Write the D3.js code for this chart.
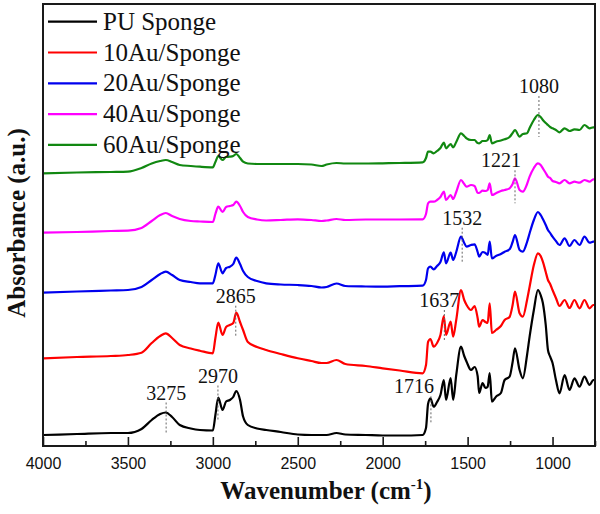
<!DOCTYPE html>
<html>
<head>
<meta charset="utf-8">
<script src="https://cdn.jsdelivr.net/npm/d3@7"></script>
<style>
  html, body { margin: 0; padding: 0; background: #fff; }
  svg { display: block; }
</style>
</head>
<body>
<svg id="chart" width="600" height="514"></svg>
<script>
// ---------------- DATA ----------------
const seriesNames = ["PU Sponge", "10Au/Sponge", "20Au/Sponge", "40Au/Sponge", "60Au/Sponge"];

const wavenumbers = [4000, 3800, 3600, 3500, 3420, 3360, 3310, 3277, 3240, 3195, 3130, 3076, 3000,
  2985, 2968, 2943, 2922, 2900, 2880, 2862, 2840, 2822, 2794, 2740, 2686, 2600, 2500, 2420, 2360,
  2330, 2272, 2220, 2100, 2000, 1900, 1765, 1745, 1733, 1719, 1700, 1680, 1660, 1640, 1627, 1600,
  1585, 1567, 1539, 1520, 1506, 1480, 1459, 1441, 1432, 1412, 1395, 1382, 1370, 1357, 1333, 1304,
  1282, 1253, 1235, 1221, 1194, 1175, 1150, 1135, 1110, 1086, 1070, 1057, 1040, 1027, 1014, 1000,
  980, 959, 929, 900, 871, 841, 812, 782, 760, 750];

const puSponge = [11, 12, 13, 13, 17, 26, 32, 33.5, 29, 21, 17.5, 16, 15.5,
  31, 48.5, 36, 44.5, 46, 49, 55, 46, 29.5, 21, 17.5, 16, 14, 11.5, 11, 11,
  11, 13, 11.5, 11, 10.5, 10.5, 11, 18, 42, 47.7, 39.3, 44, 51, 66, 46, 68,
  46, 71, 99.3, 90, 84.3, 76, 79, 70, 53, 63, 58, 59.3, 73, 44.3, 49.3, 53,
  66, 69.3, 84, 97.7, 76, 67.7, 91, 109.3, 136, 156, 151, 143, 121, 96, 89.3, 83,
  66, 52.7, 71, 56, 67.7, 59.3, 69.3, 61, 66, 66];

const au10 = [87.7, 89, 90, 91, 93.3, 103, 110, 112.7, 108, 101, 97.5, 95.3, 92.7,
  108, 123.3, 111, 119, 121, 123, 133.3, 124, 116, 104, 99, 96, 92, 87.7, 85, 83,
  83, 86, 82, 80, 77.7, 75.5, 72.7, 81, 104, 107, 99.3, 103, 111, 130, 111, 124.3,
  109.3, 126, 156, 146, 141, 136, 140, 128, 119.3, 126, 124, 123, 142.7, 113, 116, 120,
  126, 129, 141, 154.3, 132.7, 129.3, 146, 159.3, 181, 192.7, 190, 184.3, 174, 166, 162, 156,
  148, 140, 146, 138, 146, 137.7, 146, 137.7, 141, 141];

const au20 = [153.3, 154.5, 155.5, 156, 159, 166, 172, 174.3, 171, 166, 164, 162.7, 162.7,
  171, 182.7, 172.7, 178, 179.3, 182, 188.3, 182, 175, 169, 165, 162.7, 161.5, 161, 160, 158.5,
  159, 162.5, 160, 159.5, 159.3, 159.8, 160.3, 166, 177.7, 179.3, 176.7, 180, 184, 193.7, 182.7, 193.3,
  186, 194, 209.3, 203, 199.3, 201, 201.7, 194, 189.3, 194, 193, 191, 204.3, 187.7, 190, 192,
  194.3, 196.7, 204, 211, 196, 194.3, 204, 212.7, 226, 234, 231, 227, 221, 216, 213, 209.3,
  205, 201, 207.7, 200, 206, 201, 209.3, 203.3, 204.3, 204.3];

const au40 = [213.3, 214, 215, 215.3, 218, 225, 231, 233, 230, 227, 225, 224.5, 224,
  232, 239.3, 234, 239, 240, 241, 244.3, 240, 234, 229, 226.5, 225.5, 226, 226.7, 226, 225,
  225.5, 227, 226, 226.5, 226.5, 226.5, 226.7, 232, 242.7, 244.3, 244.3, 246, 249, 254.3, 246, 251,
  247, 254, 266, 262, 259.3, 261, 260, 253.3, 253, 255.3, 255, 256, 262.7, 251, 252.7, 255,
  256, 257.7, 262, 267.7, 256, 254.3, 262, 269.3, 278, 282.7, 281, 277.7, 273, 269.3, 268, 265,
  264, 262.7, 266, 262.7, 264.3, 263.3, 266, 264.3, 266.7, 266.7];

const au60 = [272.7, 273.5, 274, 274.3, 278, 282.5, 285, 286, 284, 281, 280, 279.3, 278.7,
  284, 290, 286, 289, 289.3, 290, 292, 288, 284.3, 282.5, 282, 282, 282, 282, 281.5, 280,
  281.5, 283, 282.5, 282.5, 282.7, 283, 283.7, 288, 294.3, 294.3, 292.7, 295, 298, 303.3, 297.7, 302,
  298.7, 304, 312.7, 310, 307.7, 306, 306, 303, 302.7, 305, 305, 306, 311, 302.7, 304.3, 305.5,
  306.7, 309, 313, 316, 309.3, 312, 312.7, 318, 326, 331, 329, 326, 323, 321, 319, 317.7,
  316, 313.7, 317.7, 315, 316.7, 316, 321, 317.7, 318.7, 318.7];

const seriesValues = [puSponge, au10, au20, au40, au60];

const xTickValues = [4000, 3500, 3000, 2500, 2000, 1500, 1000];
const xMinorTickValues = [3750, 3250, 2750, 2250, 1750, 1250, 750];

// peak annotations: label, wavenumber, series index
const peakLabels = ["3275", "2970", "2865", "1716", "1637", "1532", "1221", "1080"];
const peakWavenumbers = [3275, 2970, 2865, 1716, 1637, 1532, 1221, 1080];
const peakSeries = [0, 0, 1, 0, 1, 2, 3, 4];

// ---------------- STYLE / LAYOUT ----------------
const colors = ["#000000", "#ff0000", "#0000ee", "#ff00ff", "#118811"];
const plot = { left: 43, right: 595, top: 4, bottom: 446 };

const svg = d3.select("#chart");

const x = d3.scaleLinear().domain([4000, 750]).range([plot.left, plot.right]);
const y = d3.scaleLinear().domain([0, 442]).range([plot.bottom, plot.top]);

// clip
svg.append("defs").append("clipPath").attr("id", "clip")
  .append("rect").attr("x", plot.left).attr("y", plot.top)
  .attr("width", plot.right - plot.left).attr("height", plot.bottom - plot.top);

// spectra
const line = d3.line()
  .x(d => x(d[0]))
  .y(d => y(d[1]))
  .curve(d3.curveMonotoneX);

const gLines = svg.append("g").attr("clip-path", "url(#clip)");
seriesValues.forEach((vals, i) => {
  const pts = wavenumbers.map((w, k) => [w, vals[k]]);
  gLines.append("path")
    .datum(pts)
    .attr("fill", "none")
    .attr("stroke", colors[i])
    .attr("stroke-width", 2.2)
    .attr("stroke-linejoin", "round")
    .attr("d", line);
});

// annotations
const annLayout = {
  "3275": { anchor: "middle", dx: 0, gap: 13, below: 22 },
  "2970": { anchor: "middle", dx: 0, gap: 15, below: 22 },
  "2865": { anchor: "middle", dx: 0, gap: 10, below: 25 },
  "1716": { anchor: "end", dx: 3, gap: 5, below: 25 },
  "1637": { anchor: "middle", dx: -5, gap: 9, below: 26 },
  "1532": { anchor: "middle", dx: 0, gap: 12, below: 26 },
  "1221": { anchor: "end", dx: 6, gap: 11, below: 25 },
  "1080": { anchor: "middle", dx: 0, gap: 22, below: 22 }
};
const interp = (vals, w) => {
  for (let k = 0; k < wavenumbers.length - 1; k++) {
    const w0 = wavenumbers[k], w1 = wavenumbers[k + 1];
    if (w <= w0 && w >= w1) {
      const t = (w0 - w) / (w0 - w1);
      return vals[k] + t * (vals[k + 1] - vals[k]);
    }
  }
  return vals[vals.length - 1];
};
const gAnn = svg.append("g");
peakLabels.forEach((lab, i) => {
  const L = annLayout[lab];
  const vals = seriesValues[peakSeries[i]];
  let best = interp(vals, peakWavenumbers[i]);
  wavenumbers.forEach((w, k) => { if (Math.abs(w - peakWavenumbers[i]) <= 12) best = Math.max(best, vals[k]); });
  const px = x(peakWavenumbers[i]);
  const py = y(best);
  const baseY = py - L.gap;
  gAnn.append("line")
    .attr("x1", px).attr("x2", px)
    .attr("y1", baseY + 3).attr("y2", py + L.below)
    .attr("stroke", "#666").attr("stroke-width", 1)
    .attr("stroke-dasharray", "2,2");
  gAnn.append("text")
    .attr("x", px + L.dx).attr("y", baseY)
    .attr("text-anchor", L.anchor)
    .attr("font-family", "'Liberation Serif', 'Times New Roman', serif")
    .attr("font-size", 20)
    .attr("fill", "#111")
    .text(lab);
});

// frame
svg.append("rect")
  .attr("x", plot.left).attr("y", plot.top)
  .attr("width", plot.right - plot.left).attr("height", plot.bottom - plot.top)
  .attr("fill", "none").attr("stroke", "#1a1a1a").attr("stroke-width", 2);

// x axis (ticks inward)
const xAxis = d3.axisBottom(x).tickValues(xTickValues).tickSize(-9).tickPadding(12).tickFormat(d3.format("d"));
const gx = svg.append("g").attr("transform", `translate(0,${plot.bottom})`).call(xAxis);
gx.select(".domain").remove();
gx.selectAll(".tick line").attr("stroke", "#1a1a1a").attr("stroke-width", 1.6);
gx.selectAll(".tick text")
  .attr("font-family", "'Liberation Sans', Arial, sans-serif")
  .attr("font-size", 16).attr("fill", "#111");

const xMinor = d3.axisBottom(x).tickValues(xMinorTickValues).tickSize(-5).tickFormat("");
const gxm = svg.append("g").attr("transform", `translate(0,${plot.bottom})`).call(xMinor);
gxm.select(".domain").remove();
gxm.selectAll(".tick line").attr("stroke", "#1a1a1a").attr("stroke-width", 1.6);

// axis titles
const xt = svg.append("text")
  .attr("x", 326).attr("y", 499)
  .attr("text-anchor", "middle")
  .attr("font-family", "'Liberation Serif', 'Times New Roman', serif")
  .attr("font-weight", "bold").attr("font-size", 25).attr("fill", "#111");
xt.append("tspan").text("Wavenumber (cm");
xt.append("tspan").attr("dy", -10).attr("font-size", 15).text("-1");
xt.append("tspan").attr("dy", 10).text(")");

svg.append("text")
  .attr("transform", "translate(25,223) rotate(-90)")
  .attr("text-anchor", "middle")
  .attr("font-family", "'Liberation Serif', 'Times New Roman', serif")
  .attr("font-weight", "bold").attr("font-size", 25).attr("fill", "#111")
  .text("Absorbance (a.u.)");

// legend
const gLeg = svg.append("g");
seriesNames.forEach((name, i) => {
  const ly = 21.7 + i * 30.8;
  gLeg.append("line")
    .attr("x1", 48).attr("x2", 97).attr("y1", ly).attr("y2", ly)
    .attr("stroke", colors[i]).attr("stroke-width", 2.2);
  gLeg.append("text")
    .attr("x", 103).attr("y", ly + 8)
    .attr("font-family", "'Liberation Serif', 'Times New Roman', serif")
    .attr("font-size", 25).attr("fill", "#111")
    .text(name);
});
</script>
</body>
</html>
